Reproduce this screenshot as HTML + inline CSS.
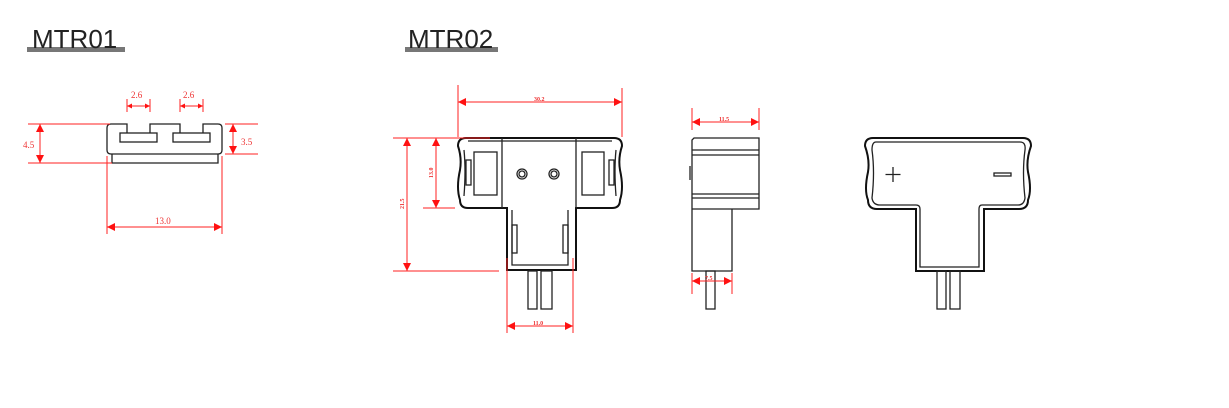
<!DOCTYPE html>
<html><head><meta charset="utf-8"><style>
html,body{margin:0;padding:0;background:#fff;}
svg{display:block;}
.t{font-family:"Liberation Sans",sans-serif;font-size:26px;fill:#222;}
.d{font-family:"Liberation Serif",serif;font-size:9px;fill:#e33;}
.ds{font-family:"Liberation Serif",serif;font-size:6px;fill:#e33;font-weight:bold;}
.k{fill:none;stroke:#222;stroke-width:1.3;}
.kb{fill:none;stroke:#111;stroke-width:2;}
.r{stroke:#f22;stroke-width:1;fill:none;}
</style></head><body>
<svg width="1229" height="408" viewBox="0 0 1229 408" xmlns="http://www.w3.org/2000/svg">
<defs>
<marker id="a" viewBox="0 0 10 10" refX="10" refY="5" markerWidth="13" markerHeight="8" orient="auto-start-reverse" markerUnits="userSpaceOnUse"><path d="M0,0 L10,5 L0,10 z" fill="#f11"/></marker>
<marker id="s" viewBox="0 0 10 10" refX="10" refY="5" markerWidth="9" markerHeight="5" orient="auto-start-reverse" markerUnits="userSpaceOnUse"><path d="M0,0 L10,5 L0,10 z" fill="#f11"/></marker>
</defs>
<rect x="27" y="47" width="98" height="5" fill="#777"/>
<text x="32" y="48" class="t">MTR01</text>
<rect x="405" y="47" width="93" height="5" fill="#777"/>
<text x="408" y="48" class="t">MTR02</text>

<path class="k" d="M112,124 H127 V133 M150,133 V124 H180 V133 M203,133 V124 H218 Q222,124 222,128 V150 Q222,154 218,154 H111 Q107,154 107,150 V128 Q107,124 111,124 H112"/>
<rect class="k" x="120" y="133" width="37" height="9"/>
<rect class="k" x="173" y="133" width="37" height="9"/>
<path class="k" d="M112,154 V163 H218 V154"/>
<g class="r">
<line x1="28" y1="124" x2="110" y2="124"/><line x1="28" y1="163" x2="112" y2="163"/>
<line x1="40" y1="124" x2="40" y2="163" marker-start="url(#a)" marker-end="url(#a)"/>
<line x1="225" y1="124" x2="258" y2="124"/><line x1="225" y1="154" x2="258" y2="154"/>
<line x1="233" y1="124" x2="233" y2="154" marker-start="url(#a)" marker-end="url(#a)"/>
<line x1="107" y1="156" x2="107" y2="234"/><line x1="222" y1="156" x2="222" y2="234"/>
<line x1="107" y1="227" x2="222" y2="227" marker-start="url(#a)" marker-end="url(#a)"/>
<line x1="127" y1="99" x2="127" y2="112"/><line x1="150" y1="99" x2="150" y2="112"/>
<line x1="127" y1="106" x2="150" y2="106" marker-start="url(#s)" marker-end="url(#s)"/>
<line x1="180" y1="99" x2="180" y2="112"/><line x1="203" y1="99" x2="203" y2="112"/>
<line x1="180" y1="106" x2="203" y2="106" marker-start="url(#s)" marker-end="url(#s)"/>
</g>
<text x="131" y="98" class="d">2.6</text><text x="183" y="98" class="d">2.6</text>
<text x="23" y="148" class="d">4.5</text><text x="241" y="145" class="d">3.5</text>
<text x="155" y="224" class="d">13.0</text>

<path class="kb" d="M466,138 H614 Q622,138 622,146 Q618,158 620,170 Q624,188 620,200 Q620,208 612,208 H576 V270 H507 V208 H468 Q460,208 460,200 Q456,188 460,170 Q462,158 458,146 Q458,138 466,138 Z"/>
<path class="k" d="M468,141 H612 M502,138 V208 M576,138 V208 M464,150 Q466,170 464,196 M616,150 Q614,170 616,196 M512,210 V265 H568 V210"/>
<rect class="k" x="466" y="160" width="5" height="25"/><rect class="k" x="609" y="160" width="5" height="25"/>
<rect class="k" x="474" y="152" width="23" height="43"/><rect class="k" x="582" y="152" width="22" height="43"/>
<rect class="k" x="512" y="225" width="5" height="28"/><rect class="k" x="563" y="225" width="5" height="28"/>
<circle class="k" cx="522" cy="174" r="5"/><circle class="k" cx="522" cy="174" r="3"/>
<circle class="k" cx="554" cy="174" r="5"/><circle class="k" cx="554" cy="174" r="3"/>
<rect class="k" x="528" y="271" width="9" height="38"/><rect class="k" x="541" y="271" width="11" height="38"/>
<g class="r">
<line x1="458" y1="85" x2="458" y2="137"/><line x1="622" y1="88" x2="622" y2="137"/>
<line x1="458" y1="102" x2="622" y2="102" marker-start="url(#a)" marker-end="url(#a)"/>
<line x1="393" y1="138" x2="490" y2="138"/><line x1="393" y1="271" x2="499" y2="271"/>
<line x1="407" y1="138" x2="407" y2="271" marker-start="url(#a)" marker-end="url(#a)"/>
<line x1="423" y1="208" x2="455" y2="208"/>
<line x1="436" y1="138" x2="436" y2="208" marker-start="url(#a)" marker-end="url(#a)"/>
<line x1="507" y1="258" x2="507" y2="333"/><line x1="573" y1="258" x2="573" y2="333"/>
<line x1="507" y1="326" x2="573" y2="326" marker-start="url(#a)" marker-end="url(#a)"/>
</g>
<text x="534" y="101" class="ds">30.2</text>
<text x="533" y="325" class="ds">11.0</text>
<text class="ds" transform="translate(404,209) rotate(-90)">21.5</text>
<text class="ds" transform="translate(433,178) rotate(-90)">13.0</text>

<path class="k" d="M694,138 H759 V209 H692 V140 Z M692,150 H759 M692,155 H759 M692,194 H759 M692,198 H759 M692,209 V271 H732 V209 M690,166 V180"/>
<rect class="k" x="706" y="271" width="9" height="38"/>
<g class="r">
<line x1="692" y1="108" x2="692" y2="130"/><line x1="759" y1="108" x2="759" y2="130"/>
<line x1="692" y1="122" x2="759" y2="122" marker-start="url(#a)" marker-end="url(#a)"/>
<line x1="692" y1="273" x2="692" y2="294"/><line x1="732" y1="273" x2="732" y2="294"/>
<line x1="692" y1="281" x2="732" y2="281" marker-start="url(#a)" marker-end="url(#a)"/>
</g>
<text x="719" y="121" class="ds">11.5</text><text x="705" y="280" class="ds">7.5</text>

<path class="kb" d="M873,138 H1023 Q1031,138 1031,146 Q1026,160 1028,172 Q1032,190 1028,200 Q1028,209 1019,209 H984 V271 H916 V209 H877 Q868,209 868,200 Q864,190 868,172 Q870,160 865,146 Q865,138 873,138 Z"/>
<path class="k" d="M876,142 H1020 Q1026,142 1025,150 Q1022,172 1025,198 Q1024,205 1018,205 H982 Q979,205 979,209 V267 H920 V209 Q920,205 916,205 H880 Q873,205 872,198 Q875,172 872,150 Q872,142 876,142"/>
<path class="k" d="M893,167 V182 M885.5,174.5 H900.5" stroke-width="2.5"/>
<rect class="k" x="994" y="173" width="17" height="3"/>
<rect class="k" x="937" y="271" width="9" height="38"/><rect class="k" x="950" y="271" width="10" height="38"/>
</svg>
</body></html>
